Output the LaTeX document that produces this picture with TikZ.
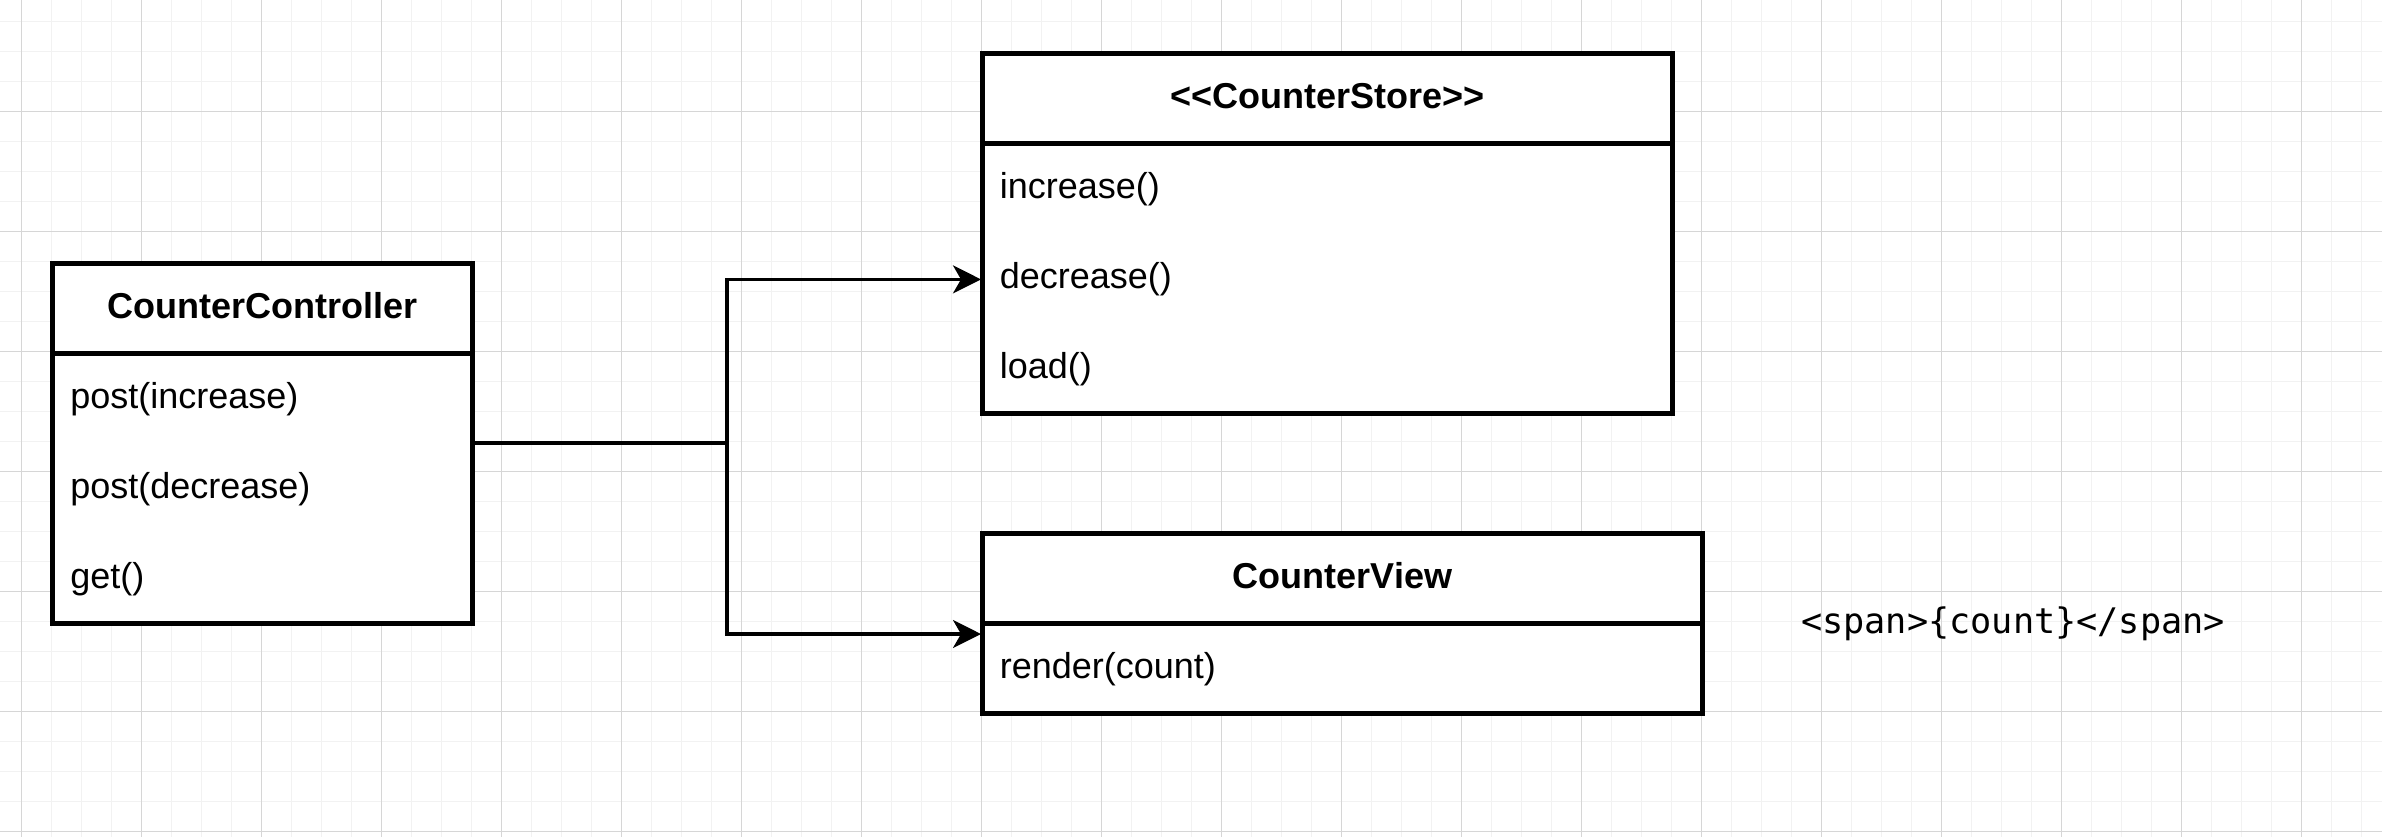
\documentclass[tikz,border=0pt]{standalone}
\usepackage{fontspec}
\setmainfont{Liberation Sans}
\newfontfamily\monofont{DejaVu Sans Mono}
\usetikzlibrary{arrows.meta,calc}
\definecolor{gridminor}{HTML}{F2F2F2}
\definecolor{gridmajor}{HTML}{D6D6D6}
\begin{document}
\begin{tikzpicture}[x=0.5pt,y=-0.5pt,
  minorg/.style={draw=gridminor,line width=0.6pt},
  majorg/.style={draw=gridmajor,line width=0.5pt},
  frame/.style={draw=black,fill=white,line width=2.5pt,inner sep=0pt,outer sep=0pt,anchor=north west},
  divider/.style={draw=black,line width=2.5pt},
  title/.style={font=\fontsize{18pt}{21pt}\selectfont\bfseries,anchor=base,inner sep=0pt},
  item/.style={font=\fontsize{18pt}{21pt}\selectfont,anchor=base west,inner sep=0pt},
  conn/.style={draw=black,line width=1.65pt},
  arr/.style={-{Stealth[length=14pt,width=14pt,inset=4pt]},shorten >=0.75pt},
  code/.style={font=\monofont\fontsize{17.6pt}{20pt}\selectfont,anchor=base,inner sep=0pt}]
\useasboundingbox (0,0) rectangle (2382,837);
\fill[white] (0,0) rectangle (2382,837);
% grid
\foreach \x in {21.8,51.8,...,2382} \draw[minorg] (\x,0) -- (\x,837);
\foreach \y in {21.7,51.7,...,837} \draw[minorg] (0,\y) -- (2382,\y);
\foreach \x in {21.8,141.8,...,2382} \draw[majorg] (\x,0) -- (\x,837);
\foreach \y in {111.7,231.7,...,837} \draw[majorg] (0,\y) -- (2382,\y);

% CounterController
\node[frame,minimum width=210pt,minimum height=180pt] (cc) at (52.5,263) {};
\draw[divider] ([yshift=-45pt]cc.north west) -- ([yshift=-45pt]cc.north east);
\node[title] (cct) at (262.5,318.7) {CounterController};
\node[item] (cc1) at (70,408.7) {post(increase)};
\node[item] (cc2) at (70,498.7) {post(decrease)};
\node[item] (cc3) at (70,588.7) {get()};

% CounterStore
\node[frame,minimum width=345pt,minimum height=180pt] (cs) at (982.5,53) {};
\draw[divider] ([yshift=-45pt]cs.north west) -- ([yshift=-45pt]cs.north east);
\node[title] (cst) at (1327.5,108.7) {{<}{<}CounterStore{>}{>}};
\node[item] (cs1) at (999.5,198.7) {increase()};
\node[item] (cs2) at (999.5,288.7) {decrease()};
\node[item] (cs3) at (999.5,378.7) {load()};

% CounterView
\node[frame,minimum width=360pt,minimum height=90pt] (cv) at (982.5,533) {};
\draw[divider] ([yshift=-45pt]cv.north west) -- ([yshift=-45pt]cv.north east);
\node[title] (cvt) at (1342.5,588.7) {CounterView};
\node[item] (cv1) at (999.5,678.7) {render(count)};

% code text
\node[code] (span) at (2013,633) {<span>\{count\}</span>};

% connectors
\coordinate (j) at ($(cc.east)+(254.5,0)$);
\draw[conn] (cc.east) -- (j);
\draw[conn,arr] (j) |- (cs.west |- cs2.west);
\draw[conn,arr] (j) |- ([yshift=-5.5pt]cv.west);
\end{tikzpicture}
\end{document}
